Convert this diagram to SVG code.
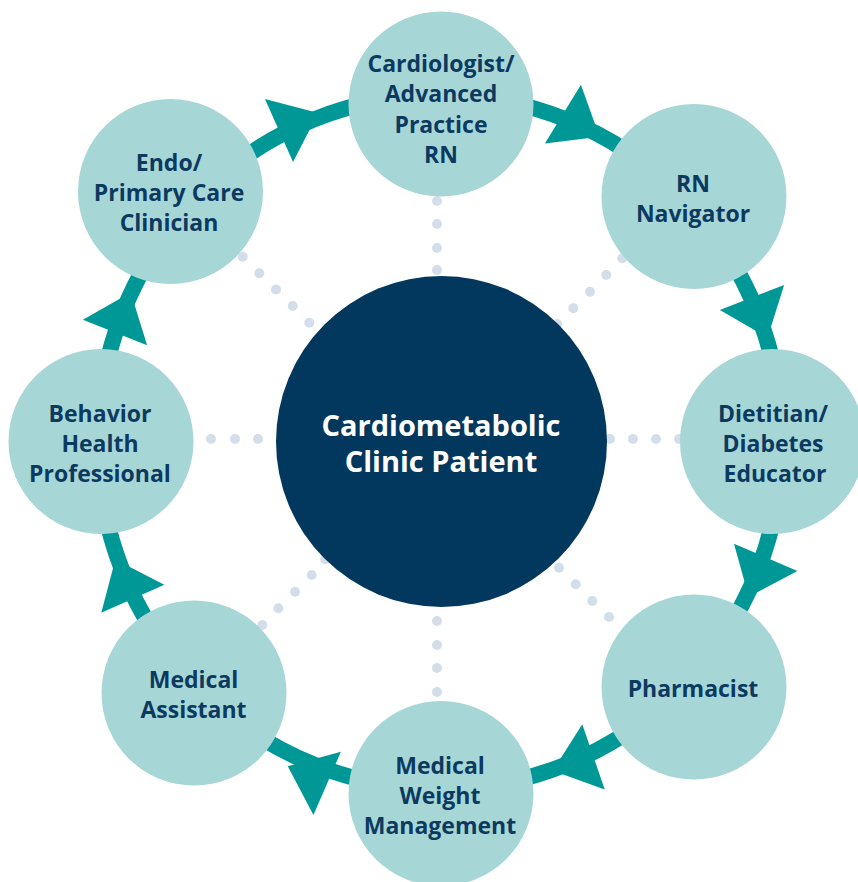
<svg xmlns="http://www.w3.org/2000/svg" xmlns:xlink="http://www.w3.org/1999/xlink" width="858" height="882" viewBox="0 0 858 882">
<defs>
<style>
.dot{fill:#D4DEEA}
.node{fill:#A7D6D7}
.lbl{font-family:"Open Sans","Liberation Sans",sans-serif;font-weight:700;font-size:23px;fill:#0C3A5F;text-anchor:middle}
.clbl{font-family:"Open Sans","Liberation Sans",sans-serif;font-weight:700;font-size:29px;fill:#FFFFFF;text-anchor:middle}
.ring{fill:none;stroke:#009897;stroke-width:16}
.ah{fill:#009897}
</style>
<polygon id="ah" points="0,-34.5 43,0 0,34.5"/>
</defs>
<rect width="858" height="882" fill="#FFFFFF"/>
<g id="spokes">
<circle class="dot" cx="437" cy="201" r="5"/><circle class="dot" cx="437" cy="224" r="5"/><circle class="dot" cx="437" cy="248" r="5"/><circle class="dot" cx="437" cy="270" r="5"/>
<circle class="dot" cx="437" cy="621" r="5"/><circle class="dot" cx="437" cy="645" r="5"/><circle class="dot" cx="437" cy="668" r="5"/><circle class="dot" cx="437" cy="692" r="5"/>
<circle class="dot" cx="211" cy="439" r="5"/><circle class="dot" cx="235" cy="439" r="5"/><circle class="dot" cx="258" cy="439" r="5"/>
<circle class="dot" cx="610" cy="439" r="5"/><circle class="dot" cx="633" cy="439" r="5"/><circle class="dot" cx="656" cy="439" r="5"/><circle class="dot" cx="679" cy="439" r="5"/>
<circle class="dot" cx="242.7" cy="256.7" r="5"/><circle class="dot" cx="259.3" cy="273.3" r="5"/><circle class="dot" cx="276" cy="289.5" r="5"/><circle class="dot" cx="292.7" cy="306" r="5"/><circle class="dot" cx="309.3" cy="322.7" r="5"/>
<circle class="dot" cx="622.3" cy="258.3" r="5"/><circle class="dot" cx="606.3" cy="275" r="5"/><circle class="dot" cx="590" cy="291.7" r="5"/><circle class="dot" cx="573.3" cy="308.3" r="5"/><circle class="dot" cx="557.3" cy="324" r="5"/>
<circle class="dot" cx="559" cy="567.7" r="5"/><circle class="dot" cx="575.7" cy="584.3" r="5"/><circle class="dot" cx="592.3" cy="601" r="5"/><circle class="dot" cx="609" cy="617" r="5"/>
<circle class="dot" cx="325" cy="559.3" r="5"/><circle class="dot" cx="311.7" cy="575" r="5"/><circle class="dot" cx="295" cy="591.7" r="5"/><circle class="dot" cx="278.3" cy="608.3" r="5"/><circle class="dot" cx="262.3" cy="625" r="5"/>
</g>
<g id="connectors">
<ellipse class="ring" cx="440" cy="442" rx="342" ry="347"/>
<use class="ah" xlink:href="#ah" href="#ah" transform="translate(279,130.5) rotate(-24)"/>
<use class="ah" xlink:href="#ah" href="#ah" transform="translate(562.9,114.2) rotate(31.5)"/>
<use class="ah" xlink:href="#ah" href="#ah" transform="translate(752,297.5) rotate(68.7)"/>
<use class="ah" xlink:href="#ah" href="#ah" transform="translate(765.7,557.3) rotate(113.3)"/>
<use class="ah" xlink:href="#ah" href="#ah" transform="translate(593.5,756.8) rotate(161)"/>
<use class="ah" xlink:href="#ah" href="#ah" transform="translate(327.2,783.3) rotate(203.5)"/>
<use class="ah" xlink:href="#ah" href="#ah" transform="translate(132.8,598.8) rotate(246)"/>
<use class="ah" xlink:href="#ah" href="#ah" transform="translate(115,332.5) rotate(291.5)"/>
</g>
<g id="patient">
<circle cx="441.5" cy="441.5" r="165.5" fill="#02385E"/>
<text class="clbl" x="441" y="436">Cardiometabolic</text>
<text class="clbl" x="441" y="471.5">Clinic Patient</text>
</g>
<g id="cardiologist">
<circle class="node" cx="441" cy="104" r="92.5"/>
<text class="lbl" x="441" y="71.5">Cardiologist/</text>
<text class="lbl" x="441" y="102">Advanced</text>
<text class="lbl" x="441" y="132.5">Practice</text>
<text class="lbl" x="441" y="163">RN</text>
</g>
<g id="rn-navigator">
<circle class="node" cx="694" cy="196.5" r="92.5"/>
<text class="lbl" x="693" y="192">RN</text>
<text class="lbl" x="693" y="221.5">Navigator</text>
</g>
<g id="dietitian">
<circle class="node" cx="772.5" cy="441.5" r="92.5"/>
<text class="lbl" x="773" y="421.5">Dietitian/</text>
<text class="lbl" x="773" y="452">Diabetes</text>
<text class="lbl" x="775" y="482">Educator</text>
</g>
<g id="pharmacist">
<circle class="node" cx="694" cy="687" r="92.5"/>
<text class="lbl" x="693" y="697">Pharmacist</text>
</g>
<g id="medical-weight-management">
<circle class="node" cx="441" cy="793.5" r="92.5"/>
<text class="lbl" x="440" y="774">Medical</text>
<text class="lbl" x="440" y="803.5">Weight</text>
<text class="lbl" x="440" y="833.5">Management</text>
</g>
<g id="medical-assistant">
<circle class="node" cx="194" cy="693" r="92.5"/>
<text class="lbl" x="193.5" y="687.5">Medical</text>
<text class="lbl" x="193.5" y="717.5">Assistant</text>
</g>
<g id="behavior-health">
<circle class="node" cx="101" cy="441.5" r="92.5"/>
<text class="lbl" x="100" y="421.5">Behavior</text>
<text class="lbl" x="100" y="452">Health</text>
<text class="lbl" x="100" y="482">Professional</text>
</g>
<g id="endo">
<circle class="node" cx="170.5" cy="191.5" r="92.5"/>
<text class="lbl" x="169" y="170.5">Endo/</text>
<text class="lbl" x="169" y="201">Primary Care</text>
<text class="lbl" x="169" y="230.5">Clinician</text>
</g>
</svg>
